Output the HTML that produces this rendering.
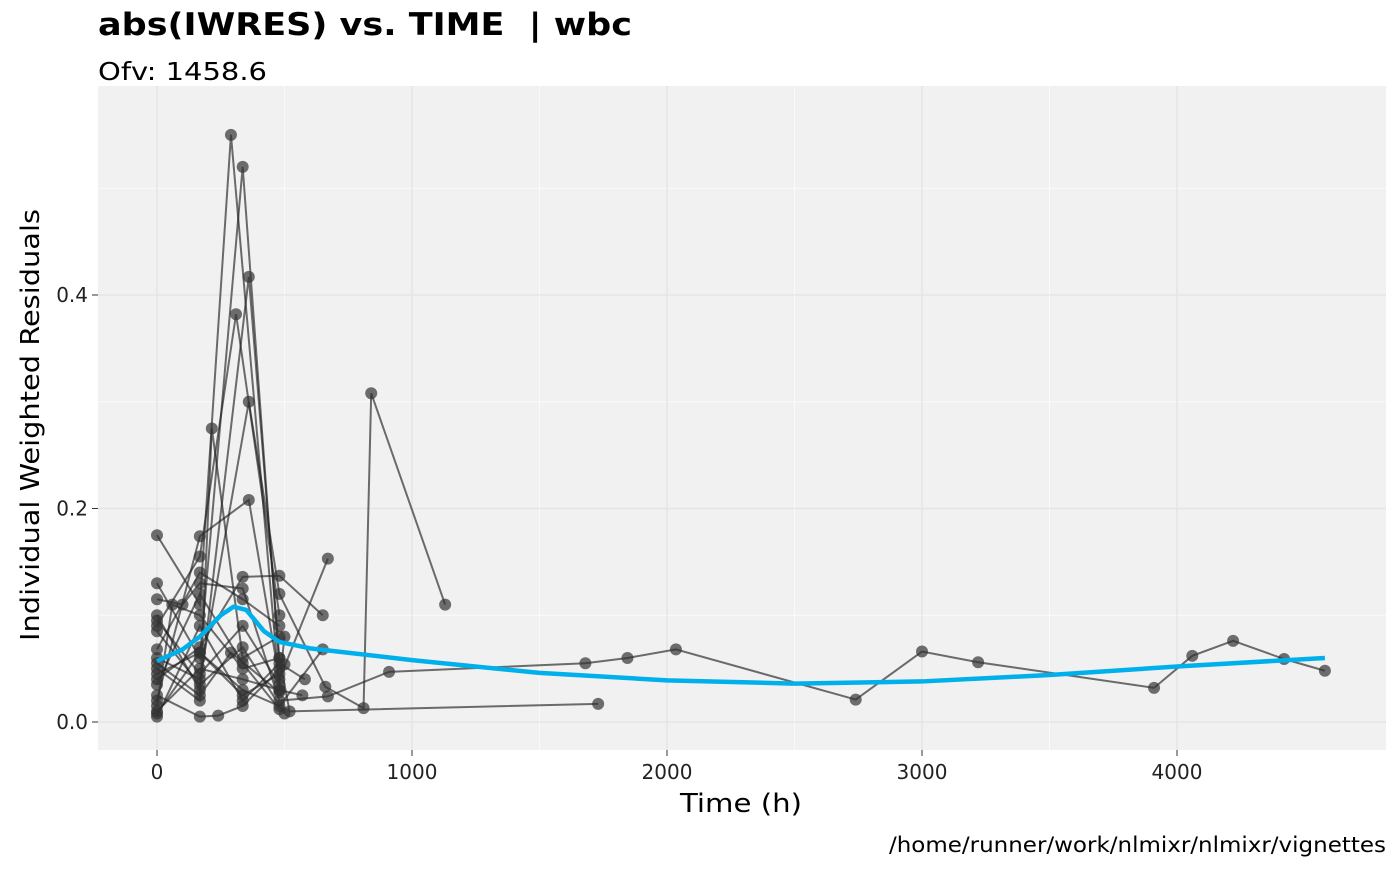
<!DOCTYPE html>
<html><head><meta charset="utf-8"><style>
body{margin:0;background:#fff;font-family:"DejaVu Sans","Liberation Sans",sans-serif}
</style></head><body>
<svg id="chart" width="1400" height="865" xmlns="http://www.w3.org/2000/svg" font-family="DejaVu Sans, Liberation Sans, sans-serif">
<text x="98" y="35" font-size="31" font-weight="bold" xml:space="preserve" textLength="534" lengthAdjust="spacingAndGlyphs">abs(IWRES) vs. TIME  | wbc</text>
<text x="98" y="80" font-size="25" textLength="169" lengthAdjust="spacingAndGlyphs">Ofv: 1458.6</text>
<rect x="98" y="86" width="1288" height="664" fill="#f1f1f1"/>
<g id="grid"></g><g id="lines"></g><g id="points"></g><g id="smooth"></g><g id="axes"></g>
<text x="741" y="812" font-size="26" text-anchor="middle" textLength="122" lengthAdjust="spacingAndGlyphs">Time (h)</text>
<text transform="translate(39,425) rotate(-90)" font-size="26" text-anchor="middle" textLength="432" lengthAdjust="spacingAndGlyphs">Individual Weighted Residuals</text>
<text x="1386" y="852" font-size="21" text-anchor="end" textLength="497" lengthAdjust="spacingAndGlyphs">/home/runner/work/nlmixr/nlmixr/vignettes</text>
</svg>
<script>
const xTicks=[0,1000,2000,3000,4000];
const yTicks=[0.0,0.2,0.4];
const yTickLabels=["0.0","0.2","0.4"];
const id1=[[0,0.175],[168,0.11],[290,0.55],[480,0.03]];
const id2=[[0,0.13],[168,0.06],[336,0.52],[480,0.05]];
const id3=[[0,0.10],[168,0.03],[360,0.417],[480,0.06],[520,0.01],[1730,0.017]];
const id4=[[0,0.09],[168,0.155],[310,0.382],[480,0.10]];
const id5=[[0,0.06],[168,0.04],[360,0.30],[480,0.12],[660,0.033],[810,0.013],[840,0.308],[1130,0.110]];
const id6=[[0,0.05],[168,0.02],[215,0.275],[336,0.06],[480,0.08]];
const id7=[[0,0.02],[168,0.174],[360,0.208],[480,0.04],[670,0.153]];
const id8=[[0,0.04],[168,0.07],[336,0.136],[480,0.137],[650,0.10]];
const id9=[[0,0.115],[100,0.11],[168,0.13],[336,0.125],[480,0.02],[670,0.024],[910,0.047],[1680,0.055],[1845,0.060],[2035,0.068],[2740,0.021],[3000,0.066],[3220,0.056],[3910,0.032],[4060,0.062],[4220,0.076],[4420,0.059],[4580,0.048]];
const id10=[[0,0.01],[168,0.05],[336,0.04],[480,0.03],[570,0.025]];
const id11=[[0,0.005],[168,0.09],[336,0.02],[480,0.055],[580,0.04]];
const id12=[[0,0.085],[168,0.035],[336,0.07],[500,0.008]];
const id13=[[0,0.025],[168,0.005],[240,0.006],[336,0.015],[500,0.054]];
const id14=[[0,0.068],[168,0.14],[336,0.115],[480,0.09]];
const id15=[[0,0.045],[168,0.065],[336,0.03],[480,0.015],[650,0.068]];
const id16=[[0,0.015],[60,0.11],[168,0.10],[336,0.05],[480,0.06]];
const id17=[[0,0.055],[168,0.025],[290,0.065],[480,0.028]];
const id18=[[0,0.095],[168,0.045],[336,0.09],[480,0.035],[500,0.08]];
const id19=[[0,0.035],[168,0.12],[336,0.055],[480,0.012]];
const id20=[[0,0.008],[168,0.065],[336,0.025],[480,0.045]];
const individuals=[id1,id2,id3,id4,id5,id6,id7,id8,id9,id10,id11,id12,id13,id14,id15,id16,id17,id18,id19,id20];
const smoothT=[0,100,168,250,300,350,420,480,600,1000,1500,2000,2500,3000,3500,4000,4580];
const smoothV=[0.057,0.068,0.08,0.10,0.108,0.105,0.085,0.075,0.069,0.058,0.046,0.039,0.036,0.038,0.044,0.052,0.060];
const X=t=>157+t*0.255, Y=v=>722-v*1067.5;
const NS="http://www.w3.org/2000/svg";
function mk(tag,attrs,parent){const e=document.createElementNS(NS,tag);for(const k in attrs)e.setAttribute(k,attrs[k]);document.getElementById(parent).appendChild(e);return e;}
[500,1500,2500,3500].forEach(t=>{const l=mk('line',{x1:X(t),x2:X(t),y1:86,y2:750,stroke:'#fafafa','stroke-width':1},'grid');});
[0.1,0.3,0.5].forEach(v=>{const l=mk('line',{x1:98,x2:1386,y1:Y(v),y2:Y(v),stroke:'#fafafa','stroke-width':1},'grid');});
xTicks.forEach(t=>{const l=mk('line',{x1:X(t),x2:X(t),y1:86,y2:750,stroke:'#e3e3e3','stroke-width':1.2},'grid');
const k=mk('line',{x1:X(t),x2:X(t),y1:750,y2:756,stroke:'#333'},'axes');
const tx=mk('text',{x:X(t),y:779,'font-size':20,fill:'#222','text-anchor':'middle'},'axes');tx.textContent=t;});
yTicks.forEach((v,i)=>{const l=mk('line',{x1:98,x2:1386,y1:Y(v),y2:Y(v),stroke:'#e3e3e3','stroke-width':1.2},'grid');
const k=mk('line',{x1:92,x2:98,y1:Y(v),y2:Y(v),stroke:'#333'},'axes');
const tx=mk('text',{x:88,y:Y(v)+7,'font-size':20,fill:'#222','text-anchor':'end'},'axes');tx.textContent=yTickLabels[i];});
individuals.forEach(ind=>{const p=mk('polyline',{points:ind.map(d=>X(d[0])+','+Y(d[1])).join(' '),fill:'none',stroke:'#222','stroke-opacity':0.65,'stroke-width':2},'lines');
ind.forEach(d=>{const c=mk('circle',{cx:X(d[0]),cy:Y(d[1]),r:6,fill:'#333','fill-opacity':0.7},'points');});});
const s=mk('polyline',{points:smoothT.map((t,i)=>X(t)+','+Y(smoothV[i])).join(' '),fill:'none',stroke:'#00b0eb','stroke-width':4.5,'stroke-linejoin':'round'},'smooth');


</script>
</body></html>
